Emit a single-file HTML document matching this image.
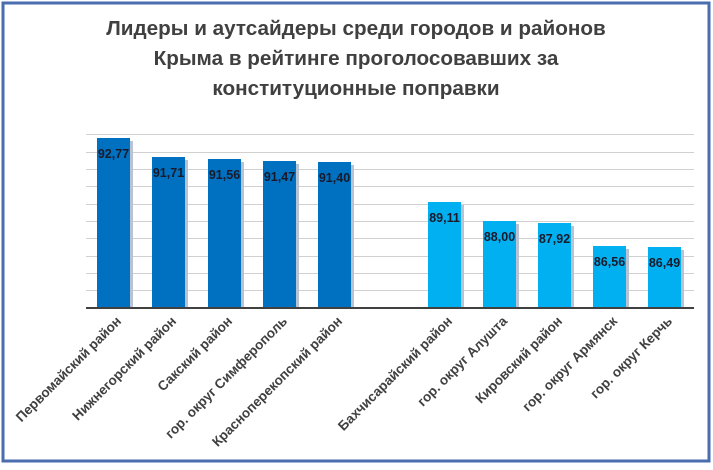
<!DOCTYPE html>
<html><head><meta charset="utf-8"><style>
body{margin:0;background:#fff}
</style></head><body>
<svg width="713" height="465" xmlns="http://www.w3.org/2000/svg" font-family="Liberation Sans, sans-serif">
<rect x="0" y="0" width="713" height="465" fill="#fff"/>
<rect x="3" y="3" width="706" height="458" fill="none" stroke="#4a6db0" stroke-width="3"/>
<g font-size="20.7" font-weight="bold" fill="#404040" text-anchor="middle">
<text x="356" y="35">Лидеры и аутсайдеры среди городов и районов</text>
<text x="356" y="65">Крыма в рейтинге проголосовавших за</text>
<text x="356" y="95">конституционные поправки</text>
</g>
<g stroke="#d0d0d0" stroke-width="1">
<line x1="86" x2="694" y1="134.5" y2="134.5"/>
<line x1="86" x2="694" y1="152.5" y2="152.5"/>
<line x1="86" x2="694" y1="169.5" y2="169.5"/>
<line x1="86" x2="694" y1="186.5" y2="186.5"/>
<line x1="86" x2="694" y1="204.5" y2="204.5"/>
<line x1="86" x2="694" y1="221.5" y2="221.5"/>
<line x1="86" x2="694" y1="238.5" y2="238.5"/>
<line x1="86" x2="694" y1="256.5" y2="256.5"/>
<line x1="86" x2="694" y1="273.5" y2="273.5"/>
<line x1="86" x2="694" y1="290.5" y2="290.5"/>
</g>
<g fill="#b8c4d4">
<rect x="100" y="141" width="33" height="167"/><rect x="155" y="160" width="33" height="148"/><rect x="211" y="162" width="33" height="146"/><rect x="266" y="164" width="33" height="144"/><rect x="321" y="165" width="33" height="143"/>
<rect x="431" y="205" width="33" height="103"/><rect x="486" y="224" width="33" height="84"/><rect x="541" y="226" width="33" height="82"/><rect x="596" y="249" width="33" height="59"/><rect x="651" y="250" width="33" height="58"/>
</g>
<g fill="#0070c0">
<rect x="97" y="138" width="33" height="170"/><rect x="152" y="157" width="33" height="151"/><rect x="208" y="159" width="33" height="149"/><rect x="263" y="161" width="33" height="147"/><rect x="318" y="162" width="33" height="146"/>
</g>
<g fill="#00b0f0">
<rect x="428" y="202" width="33" height="106"/><rect x="483" y="221" width="33" height="87"/><rect x="538" y="223" width="33" height="85"/><rect x="593" y="246" width="33" height="62"/><rect x="648" y="247" width="33" height="61"/>
</g>
<line x1="86" x2="694" y1="308" y2="308" stroke="#404040" stroke-width="2"/>
<g font-size="12.5" font-weight="bold" fill="#1a1a2a" text-anchor="middle">
<text x="113.5" y="158">92,77</text><text x="168.5" y="177">91,71</text><text x="224.5" y="179">91,56</text><text x="279.5" y="181">91,47</text><text x="334.5" y="182">91,40</text>
<text x="444.5" y="222">89,11</text><text x="499.5" y="241">88,00</text><text x="554.5" y="243">87,92</text><text x="609.5" y="266">86,56</text><text x="664.5" y="267">86,49</text>
</g>
<g font-size="13.5" font-weight="bold" fill="#404040" text-anchor="end">
<text transform="translate(122,322) rotate(-45)">Первомайский район</text>
<text transform="translate(177,322) rotate(-45)">Нижнегорский район</text>
<text transform="translate(233,322) rotate(-45)">Сакский район</text>
<text transform="translate(288,322) rotate(-45)">гор. округ Симферополь</text>
<text transform="translate(343,322) rotate(-45)">Красноперекопский район</text>
<text transform="translate(453,322) rotate(-45)">Бахчисарайский район</text>
<text transform="translate(508,322) rotate(-45)">гор. округ Алушта</text>
<text transform="translate(563,322) rotate(-45)">Кировский район</text>
<text transform="translate(618,322) rotate(-45)">гор. округ Армянск</text>
<text transform="translate(673,322) rotate(-45)">гор. округ Керчь</text>
</g>
</svg>
</body></html>
